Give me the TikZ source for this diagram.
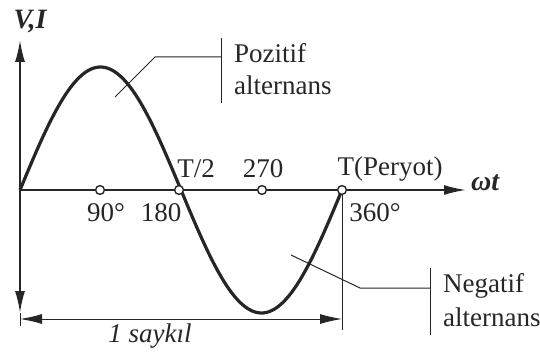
\documentclass[tikz,border=0pt]{standalone}
\usepackage{fontspec}
\setmainfont{Liberation Serif}
\usetikzlibrary{arrows.meta}
\tikzset{
  dot/.style={circle, draw, fill=white, line width=0.7pt, inner sep=0pt, minimum size=4.4pt},
  axis/.style={line width=0.9pt},
  thin line/.style={line width=0.5pt},
}
\begin{document}
\begin{tikzpicture}[x=0.5pt, y=-0.5pt, >={Latex[length=11pt,width=5pt]},
    font=\fontsize{13.5}{16}\selectfont, color=black!85]
  \useasboundingbox (0,0) rectangle (540,352);
  % axes
  \coordinate (O) at (20,190);
  \coordinate (ytop) at (20,40);
  \coordinate (ybot) at (20,313);
  \coordinate (xend) at (466,190);
  \draw[axis,->] (O) -- (ytop);
  \draw[axis,->] (O) -- (ybot);
  \draw[axis,->] (O) -- (xend);
  \node[font=\fontsize{14}{16}\selectfont\bfseries\itshape] (vi) at (30,22) {V,I};
  \node[anchor=west, font=\fontsize{14}{16}\selectfont\bfseries\itshape] (wt) at (464,183) {ωt};

  % sine wave
  \draw[line width=1.6pt, domain=0:360, samples=120, smooth, variable=\x]
    plot ({20+\x*0.89444}, {190-123*sin(\x)});

  % marks on the axis
  \node[dot] (p90) at (100,190) {};
  \node[dot] (p180) at (179,190) {};
  \node[dot] (p270) at (262,190) {};
  \node[dot] (p360) at (342,190) {};
  \node (t2) at (196,169) {T/2};
  \node (l270) at (263,169) {270};
  \node (tper) at (390,169) {T(Peryot)};
  \node (l90) at (106,213) {90°};
  \node (l180) at (161,213) {180};
  \node (l360) at (375,213) {360°};

  % one cycle
  \coordinate (ext) at (342,330);
  \coordinate (ybotext) at (20,326);
  \draw[thin line] (p360) -- (ext);
  \draw[thin line] (ybot) -- (ybotext);
  \coordinate (c1) at (20,319);
  \coordinate (c2) at (342,319);
  \draw[thin line,<->] (c1) -- (c2);
  \node[font=\fontsize{13.5}{16}\selectfont\itshape] (cyc) at (150,336) {1 saykıl};

  % positive half label
  \coordinate (pa) at (115,97);
  \coordinate (pb) at (155,57);
  \coordinate (pc) at (221,57);
  \coordinate (pbar1) at (221,38);
  \coordinate (pbar2) at (221,103);
  \draw[thin line] (pa) -- (pb) -- (pc);
  \draw[thin line] (pbar1) -- (pbar2);
  \node[anchor=west, align=left] (poz) at (227,69) {Pozitif\\alternans};

  % negative half label
  \coordinate (na) at (291,255);
  \coordinate (nb) at (360,288);
  \coordinate (nc) at (430,288);
  \coordinate (nbar1) at (430,268);
  \coordinate (nbar2) at (430,335);
  \draw[thin line] (na) -- (nb) -- (nc);
  \draw[thin line] (nbar1) -- (nbar2);
  \node[anchor=west, align=left, font=\fontsize{13.5}{17}\selectfont] (neg) at (436,300) {Negatif\\alternans};
\end{tikzpicture}
\end{document}
